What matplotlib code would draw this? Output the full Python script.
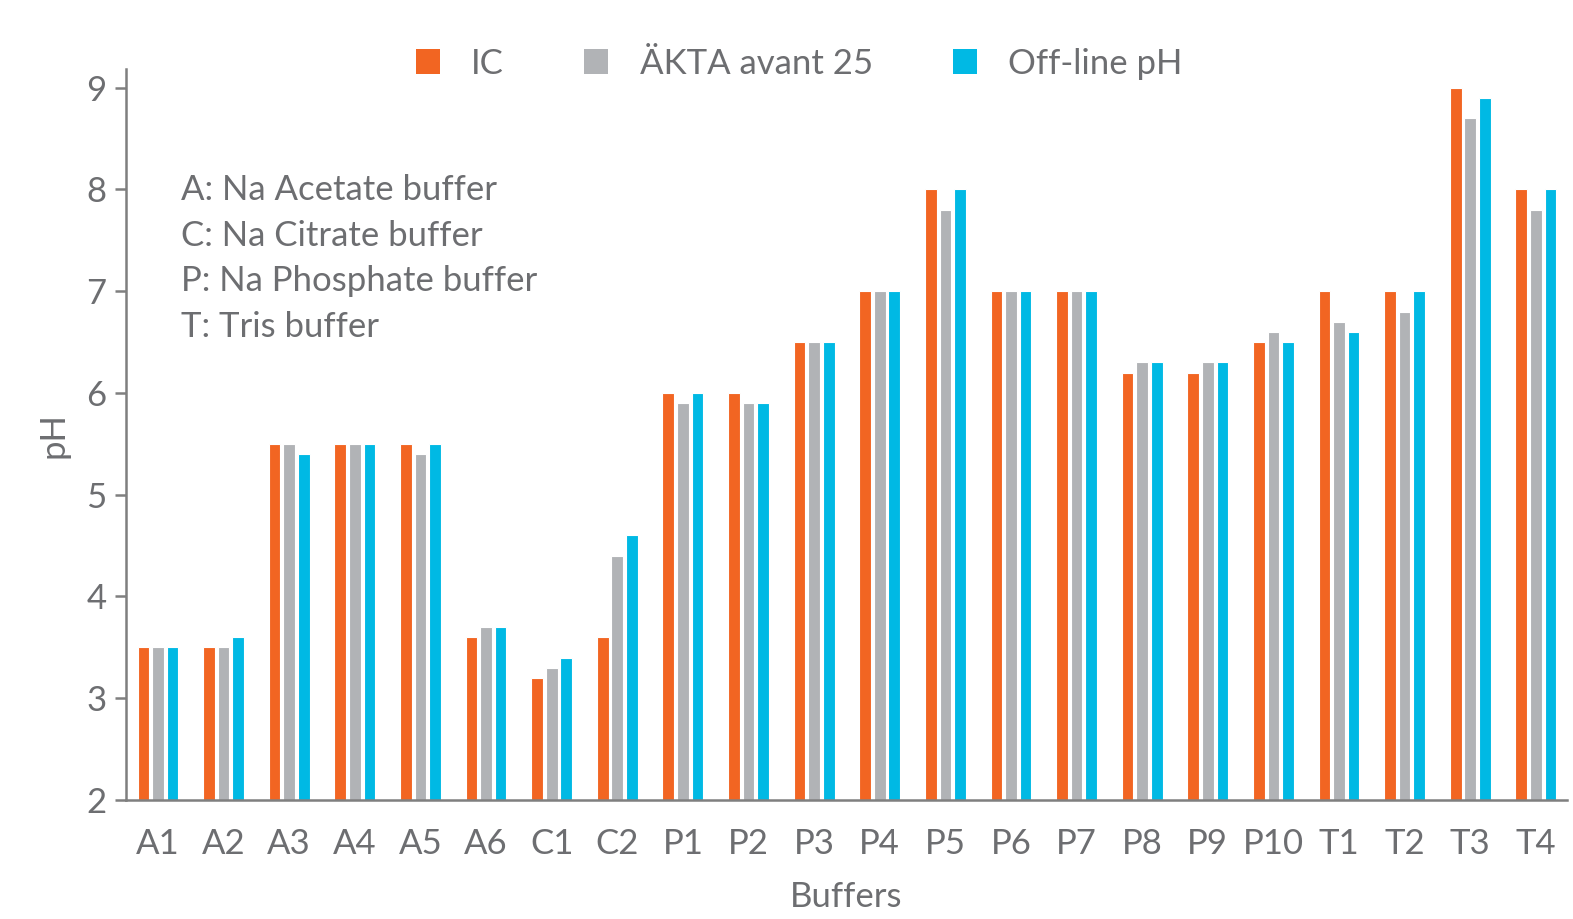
import numpy as np
import matplotlib.pyplot as plt
from matplotlib.patches import Patch

plt.rcParams['font.family'] = ['Lato', 'DejaVu Sans']

buffers = ["A1", "A2", "A3", "A4", "A5", "A6", "C1", "C2", "P1", "P2", "P3",
           "P4", "P5", "P6", "P7", "P8", "P9", "P10", "T1", "T2", "T3", "T4"]
ic = [3.5, 3.5, 5.5, 5.5, 5.5, 3.6, 3.2, 3.6, 6.0, 6.0, 6.5,
      7.0, 8.0, 7.0, 7.0, 6.2, 6.2, 6.5, 7.0, 7.0, 9.0, 8.0]
akta = [3.5, 3.5, 5.5, 5.5, 5.4, 3.7, 3.3, 4.4, 5.9, 5.9, 6.5,
        7.0, 7.8, 7.0, 7.0, 6.3, 6.3, 6.6, 6.7, 6.8, 8.7, 7.8]
offline = [3.5, 3.6, 5.4, 5.5, 5.5, 3.7, 3.4, 4.6, 6.0, 5.9, 6.5,
           7.0, 8.0, 7.0, 7.0, 6.3, 6.3, 6.5, 6.6, 7.0, 8.9, 8.0]
series_names = ["IC", "ÄKTA avant 25", "Off-line pH"]
colors = ["#F26522", "#B1B3B6", "#00B9E4"]
note = ("A: Na Acetate buffer\nC: Na Citrate buffer\n"
        "P: Na Phosphate buffer\nT: Tris buffer")

TEXT = "#6D6E71"
SPINE = "#7F7F7F"

fig = plt.figure(figsize=(15.73, 9.19), dpi=100)
ax = fig.add_axes([0.080, 0.1295, 0.916, 0.795])

x = np.arange(len(buffers))
step = 0.222
width = 0.178
for k, (vals, c) in enumerate(zip([ic, akta, offline], colors)):
    ax.bar(x + (k - 1) * step, np.array(vals) - 2, width=width, bottom=2,
           color=c, edgecolor="white", linewidth=0.8)

ax.set_xlim(-0.49, 21.47)
ax.set_ylim(2, 9.18)
ax.set_yticks(range(2, 10))
ax.set_xticks(x)
ax.set_xticklabels(buffers)

for s in ["top", "right"]:
    ax.spines[s].set_visible(False)
for s in ["left", "bottom"]:
    ax.spines[s].set_color(SPINE)
    ax.spines[s].set_linewidth(1.8)

ax.tick_params(axis="y", length=8, width=1.8, color=SPINE, labelsize=25,
               labelcolor=TEXT, pad=6)
ax.tick_params(axis="x", length=0, labelsize=25, labelcolor=TEXT, pad=20)

ax.set_ylabel("pH", fontsize=25, color=TEXT, labelpad=12)
ax.set_xlabel("Buffers", fontsize=25, color=TEXT, labelpad=15)

ax.text(0.038, 0.857, note, transform=ax.transAxes, fontsize=25, color=TEXT,
        va="top", ha="left", linespacing=1.53)

handles = [Patch(facecolor=c, edgecolor="none") for c in colors]
fig.legend(handles, series_names, loc="upper center", bbox_to_anchor=(0.508, 0.982),
           ncol=3, frameon=False, fontsize=25, labelcolor=TEXT,
           handlelength=0.7, handleheight=0.7, handletextpad=0.9,
           columnspacing=2.3)

fig.savefig("out.png", dpi=100)
